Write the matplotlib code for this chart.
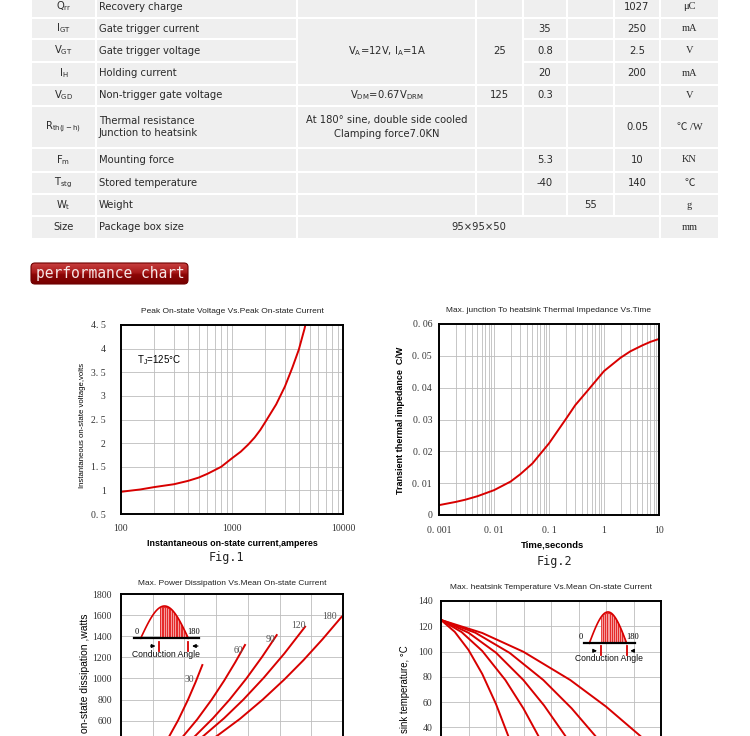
import numpy as np
import matplotlib
matplotlib.use("Agg")
import matplotlib.pyplot as plt
from matplotlib.patches import FancyBboxPatch, Rectangle
from matplotlib.colors import LinearSegmentedColormap
from matplotlib.ticker import NullFormatter

W, H = 750, 736
RED = "#d80000"
GRID = "#bdbdbd"
SERIF = ["Liberation Serif", "DejaVu Serif"]
SANS = ["Liberation Sans", "DejaVu Sans"]

# ---------------- datasheet table ----------------
symbols = [r"$\mathregular{Q_{rr}}$", r"$\mathregular{I_{GT}}$", r"$\mathregular{V_{GT}}$",
           r"$\mathregular{I_{H}}$", r"$\mathregular{V_{GD}}$", r"$\mathregular{R_{th(j-h)}}$",
           r"$\mathregular{F_{m}}$", r"$\mathregular{T_{stg}}$", r"$\mathregular{W_{t}}$", "Size"]
descriptions = ["Recovery charge", "Gate trigger current", "Gate trigger voltage", "Holding current",
                "Non-trigger gate voltage", "Thermal resistance\nJunction to heatsink", "Mounting force",
                "Stored temperature", "Weight", "Package box size"]
min_vals = ["", "35", "0.8", "20", "0.3", "", "5.3", "-40", "", ""]
typ_vals = ["", "", "", "", "", "", "", "", "55", ""]
max_vals = ["1027", "250", "2.5", "200", "", "0.05", "10", "140", "", ""]
units = ["μC", "mA", "V", "mA", "V", "℃ /W", "KN", "℃", "g", "mm"]
# merged cells: first row, last row, first col, last col, text
merged = [
    (1, 3, 2, 2, r"$\mathregular{V_A}$=12V, $\mathregular{I_A}$=1A"),
    (1, 3, 3, 3, "25"),
    (4, 4, 2, 2, r"$\mathregular{V_{DM}}$=0.67$\mathregular{V_{DRM}}$"),
    (4, 4, 3, 3, "125"),
    (5, 5, 2, 2, "At 180° sine, double side cooled\nClamping force7.0KN"),
    (9, 9, 2, 6, "95×95×50"),
]

# table grid in pixels
row_edges = [-5, 18, 39, 62, 85, 106, 148, 172, 194, 216, 239]
col_edges = [31, 96, 297, 476, 523, 567, 614, 660, 719]

# ---------------- Fig.1 ----------------
fig1_title = "Peak On-state Voltage Vs.Peak On-state Current"
fig1_current = [100, 150, 200, 300, 400, 500, 600, 700, 800, 1000, 1200, 1400, 1600, 1800,
                2000, 2500, 3000, 3500, 4000, 4500, 4600]
fig1_voltage = [0.97, 1.02, 1.07, 1.13, 1.20, 1.27, 1.35, 1.43, 1.50, 1.68, 1.82, 1.97, 2.12, 2.28,
                2.45, 2.82, 3.20, 3.60, 3.98, 4.42, 4.52]
fig1_xticks = [100, 1000, 10000]
fig1_xticklabels = ["100", "1000", "10000"]
fig1_yticks = [0.5, 1, 1.5, 2, 2.5, 3, 3.5, 4, 4.5]
fig1_yticklabels = ["0. 5", "1", "1. 5", "2", "2. 5", "3", "3. 5", "4", "4. 5"]

# ---------------- Fig.2 ----------------
fig2_title = "Max. junction To heatsink Thermal Impedance Vs.Time"
fig2_time = [0.001, 0.002, 0.003, 0.005, 0.01, 0.02, 0.03, 0.05, 0.1, 0.2, 0.3, 0.5, 1, 2, 3, 5, 7, 10]
fig2_impedance = [0.0031, 0.0041, 0.0048, 0.0059, 0.0078, 0.0105, 0.0128, 0.0162, 0.0225, 0.0300,
                  0.0345, 0.0390, 0.0452, 0.0494, 0.0514, 0.0533, 0.0544, 0.0553]
fig2_xticks = [0.001, 0.01, 0.1, 1, 10]
fig2_xticklabels = ["0. 001", "0. 01", "0. 1", "1", "10"]
fig2_yticks = [0, 0.01, 0.02, 0.03, 0.04, 0.05, 0.06]
fig2_yticklabels = ["0", "0. 01", "0. 02", "0. 03", "0. 04", "0. 05", "0. 06"]

# ---------------- Fig.3 (power dissipation) ----------------
fig3_title = "Max. Power Dissipation Vs.Mean On-state Current"
fig3_ylabel = "on-state dissipation ,watts"   # part left visible by the page crop
angles = ["30", "60", "90", "120", "180"]
fig3_current = [
    [0, 100, 200, 305, 360, 423, 470, 513],
    [0, 100, 200, 300, 393, 480, 572, 650, 720, 782],
    [0, 150, 300, 467, 580, 685, 790, 890, 982],
    [0, 200, 400, 519, 650, 772, 900, 1030, 1161],
    [0, 200, 400, 604, 750, 894, 1030, 1150, 1270, 1392],
]
fig3_power = [
    [0, 79, 226, 454, 603, 800, 964, 1127],
    [0, 76, 178, 309, 454, 611, 800, 978, 1152, 1317],
    [0, 103, 246, 454, 623, 800, 998, 1205, 1411],
    [0, 134, 320, 454, 623, 800, 1006, 1236, 1490],
    [0, 111, 261, 454, 617, 800, 990, 1172, 1370, 1585],
]
fig3_label_at = [(431, 991), (740, 1269), (940, 1371), (1119, 1506), (1314, 1585)]
fig3_xticks = [0, 200, 400, 600, 800, 1000, 1200, 1400]
fig3_yticks = [600, 800, 1000, 1200, 1400, 1600, 1800]

# ---------------- Fig.4 (heatsink temperature) ----------------
fig4_title = "Max. heatsink Temperature Vs.Mean On-state Current"
fig4_ylabel = "sink temperature, °C"          # part left visible by the page crop
fig4_current = [
    [0, 100, 200, 300, 400, 489, 560],
    [0, 150, 300, 468, 600, 708, 800],
    [0, 200, 400, 599, 750, 904, 1000],
    [0, 250, 500, 744, 950, 1122, 1250],
    [0, 300, 600, 940, 1200, 1449, 1600],
]
fig4_temp = [
    [125, 115.6, 101.3, 82.3, 58.5, 33.3, 10.5],
    [125, 115.4, 100.5, 77.5, 54.9, 33.3, 12.8],
    [125, 114.9, 99.1, 77.5, 57.3, 33.3, 16.6],
    [125, 114.9, 98.9, 77.5, 55.1, 33.3, 15.3],
    [125, 114.7, 99.8, 77.5, 56.5, 33.3, 17.6],
]
fig4_xticks = [0, 200, 400, 600, 800, 1000, 1200, 1400, 1600]
fig4_yticks = [40, 60, 80, 100, 120, 140]


def px_axes(fig, left, top, right, bottom):
    return fig.add_axes([left / W, 1 - bottom / H, (right - left) / W, (bottom - top) / H])


def cell(pg, r0, r1, c0, c1, text, col):
    x0, x1 = col_edges[c0], col_edges[c1 + 1]
    y0, y1 = row_edges[r0], row_edges[r1 + 1]
    pg.add_patch(Rectangle((x0 + 1, y0 + 1), x1 - x0 - 2, y1 - y0 - 2,
                           facecolor="#efefef", edgecolor="none"))
    if not text:
        return
    yc = (y0 + y1) / 2
    if col == 1:
        pg.text(x0 + 3, yc, text, ha="left", va="center", fontsize=7.2,
                family="DejaVu Sans", color="#2a2a2a", linespacing=1.3)
    elif col == 7:
        pg.text((x0 + x1) / 2, yc, text, ha="center", va="center", fontsize=7.5,
                family=["Liberation Serif", "Noto Sans CJK KR"], color="#2a2a2a")
    else:
        pg.text((x0 + x1) / 2, yc, text, ha="center", va="center", fontsize=7.2,
                family="DejaVu Sans", color="#2a2a2a", linespacing=1.5)


def draw_table(pg):
    covered = set()
    for r0, r1, c0, c1, txt in merged:
        for r in range(r0, r1 + 1):
            for c in range(c0, c1 + 1):
                covered.add((r, c))
        cell(pg, r0, r1, c0, c1, txt, c0)
    for r in range(len(symbols)):
        row = [symbols[r], descriptions[r], "", "", min_vals[r], typ_vals[r], max_vals[r], units[r]]
        for c in range(len(row)):
            if (r, c) not in covered:
                cell(pg, r, r, c, c, row[c], c)


def draw_badge(pg):
    box = FancyBboxPatch((31, 263), 157, 21, boxstyle="round,pad=0,rounding_size=4",
                         facecolor="none", edgecolor="#6e0000", lw=0.8, zorder=3)
    pg.add_patch(box)
    cmap = LinearSegmentedColormap.from_list(
        "badge", [(0, "#c84040"), (0.45, "#a81a1a"), (0.55, "#8c0606"), (1, "#760000")])
    grad = np.linspace(0, 1, 60)[:, None]
    im = pg.imshow(grad, extent=[31, 188, 284, 263], cmap=cmap, aspect="auto", zorder=2)
    im.set_clip_path(box)
    pg.text(110, 273.5, "performance chart", ha="center", va="center", fontsize=10.5,
            family="DejaVu Sans Mono", color="#f6e6e6", zorder=4)


def style_chart(ax, title, pad):
    ax.set_title(title, fontsize=6, family=SANS, pad=pad, color="#222222")
    for sp in ax.spines.values():
        sp.set_linewidth(1.4)
        sp.set_color("black")
    ax.tick_params(which="both", length=0, labelsize=7, labelcolor="#333333")
    ax.grid(True, which="both", color=GRID, lw=0.6)
    ax.set_axisbelow(True)


def conduction_inset(fig, box, start, zero_x, end_x):
    ax = px_axes(fig, *box)
    ax.set_xlim(-0.3, 1.3)
    ax.set_ylim(-0.62, 1.05)
    ax.axis("off")
    t = np.linspace(0, 1, 120)
    hump = np.sin(np.pi * t)
    on = t >= start
    ax.fill_between(t[on], 0, hump[on], color="#e52a2a", lw=0)
    for xs in np.arange(start + 0.04, 0.99, 0.05):
        ax.plot([xs, xs], [0.02, 0.95 * np.sin(np.pi * xs)], color="#f8b4b4", lw=0.6)
    ax.plot(t, hump, color=RED, lw=1.2)
    ax.plot([-0.15, 1.22], [0, 0], color="black", lw=1.6)
    for xm in (start, 1.0):
        ax.plot([xm, xm], [-0.1, -0.38], color=RED, lw=1.3)
    arrow = dict(arrowstyle="-|>", color="black", lw=0.9, mutation_scale=5)
    ax.annotate("", xy=(start - 0.02, -0.24), xytext=(start - 0.24, -0.24), arrowprops=arrow)
    ax.annotate("", xy=(1.02, -0.24), xytext=(1.26, -0.24), arrowprops=arrow)
    ax.text(zero_x, 0.2, "0", ha="center", va="center", fontsize=6, family=SERIF)
    ax.text(end_x, 0.2, "180", ha="center", va="center", fontsize=6, family=SERIF)
    ax.text(0.53, -0.5, "Conduction Angle", ha="center", va="center", fontsize=6.2,
            family=SANS, color="#111111")


def main():
    plt.rcParams["font.family"] = ["DejaVu Sans"]
    fig = plt.figure(figsize=(W / 100, H / 100), dpi=100)
    fig.patch.set_facecolor("white")

    pg = fig.add_axes([0, 0, 1, 1])
    pg.axis("off")
    draw_table(pg)
    draw_badge(pg)
    pg.text(226, 558, "Fig.1", ha="center", va="center", fontsize=8.5, family="DejaVu Sans Mono", color="#222")
    pg.text(554, 562, "Fig.2", ha="center", va="center", fontsize=8.5, family="DejaVu Sans Mono", color="#222")
    pg.set_xlim(0, W)
    pg.set_ylim(H, 0)

    # Fig.1
    ax1 = px_axes(fig, 121, 325, 343, 514)
    ax1.set_xscale("log")
    ax1.plot(fig1_current, fig1_voltage, color=RED, lw=1.4)
    ax1.set_xlim(100, 10000)
    ax1.set_ylim(0.5, 4.5)
    ax1.set_xticks(fig1_xticks, fig1_xticklabels, fontfamily=SERIF)
    ax1.xaxis.set_minor_formatter(NullFormatter())
    ax1.set_yticks(fig1_yticks, fig1_yticklabels, fontfamily=SERIF)
    style_chart(ax1, fig1_title, 8.6)
    ax1.tick_params(axis="x", pad=7)
    ax1.tick_params(axis="y", pad=11)
    ax1.set_xlabel("Instantaneous on-state current,amperes", fontsize=6.4, weight="bold",
                   family=SANS, va="center")
    ax1.xaxis.set_label_coords(0.502, -29 / 189)
    ax1.set_ylabel("Instantaneous on-state voltage,volts", fontsize=5.6, family=SANS, va="center")
    ax1.yaxis.set_label_coords(-38 / 222, 0.467)
    ax1.text(0.072, 0.815, r"$\mathregular{T_J}$=125°C", transform=ax1.transAxes,
             ha="left", va="center", fontsize=7, family=SANS)

    # Fig.2
    ax2 = px_axes(fig, 439, 324, 659, 515)
    ax2.set_xscale("log")
    ax2.plot(fig2_time, fig2_impedance, color=RED, lw=1.4)
    ax2.set_xlim(0.001, 10)
    ax2.set_ylim(0, 0.06)
    ax2.set_xticks(fig2_xticks, fig2_xticklabels, fontfamily=SERIF)
    ax2.xaxis.set_minor_formatter(NullFormatter())
    ax2.set_yticks(fig2_yticks, fig2_yticklabels, fontfamily=SERIF)
    style_chart(ax2, fig2_title, 8.6)
    ax2.tick_params(axis="x", pad=8)
    ax2.tick_params(axis="y", pad=5)
    ax2.set_xlabel("Time,seconds", fontsize=6.8, weight="bold", family=SANS, va="center")
    ax2.xaxis.set_label_coords(0.518, -30 / 191)
    ax2.set_ylabel("Transient thermal impedance  C/W", fontsize=6.5, weight="bold",
                   family=SANS, va="center")
    ax2.yaxis.set_label_coords(-39 / 220, 0.494)

    # Fig.3 (its lower part is cut off by the page bottom)
    ax3 = px_axes(fig, 121, 594, 343, 784)
    for cur, pw in zip(fig3_current, fig3_power):
        ax3.plot(cur, pw, color=RED, lw=1.4)
    for name, (lx, ly) in zip(angles, fig3_label_at):
        ax3.text(lx, ly, name, ha="center", va="center", fontsize=7, family=SERIF, color="#555555")
    ax3.set_xlim(0, 1400)
    ax3.set_ylim(0, 1800)
    ax3.set_xticks(fig3_xticks, [])
    ax3.set_yticks(fig3_yticks, [str(v) for v in fig3_yticks], fontfamily=SERIF)
    style_chart(ax3, fig3_title, 6.7)
    ax3.tick_params(axis="y", pad=6.5)
    ax3.set_ylabel(fig3_ylabel, fontsize=7.5, family=SANS, ha="left", va="center")
    ax3.yaxis.set_label_coords(-36 / 222, (784 - 733) / 190)

    # Fig.4 (its lower part is cut off by the page bottom)
    ax4 = px_axes(fig, 441, 601, 661, 778)
    for cur, tmp in zip(fig4_current, fig4_temp):
        ax4.plot(cur, tmp, color=RED, lw=1.4)
    ax4.set_xlim(0, 1600)
    ax4.set_ylim(0, 140)
    ax4.set_xticks(fig4_xticks, [])
    ax4.set_yticks(fig4_yticks, [str(v) for v in fig4_yticks], fontfamily=SERIF)
    style_chart(ax4, fig4_title, 8.9)
    ax4.tick_params(axis="y", pad=6)
    ax4.set_ylabel(fig4_ylabel, fontsize=6.9, family=SANS, ha="left", va="center")
    ax4.yaxis.set_label_coords(-36 / 220, (778 - 733) / 177)

    conduction_inset(fig, (126.4, 604.4, 202.6, 658.3), 0.39, -0.08, 1.11)
    conduction_inset(fig, (578.1, 610.4, 637.9, 662.7), 0.30, -0.23, 1.17)

    fig.savefig("out.png", dpi=100)


if __name__ == "__main__":
    main()
